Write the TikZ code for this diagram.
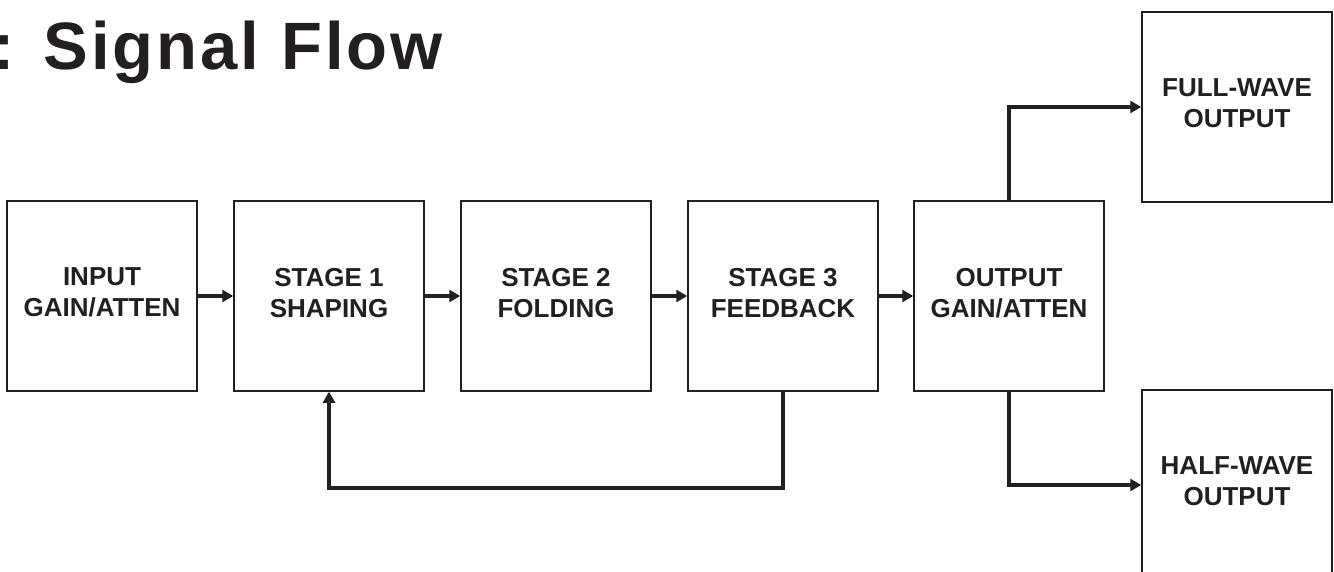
\documentclass[tikz,border=0pt]{standalone}
\usepackage{fontspec}
\setmainfont{Liberation Sans}
\newfontfamily\titlefont[LetterSpace=4.5]{Liberation Sans}
\usetikzlibrary{arrows.meta}
\definecolor{ink}{HTML}{231F20}
\begin{document}
\begin{tikzpicture}[x=1pt,y=-1pt,
  blk/.style={draw=ink, line width=1.5pt, minimum width=190pt, minimum height=190pt,
    inner sep=0pt, align=center, text=ink, text depth=7pt, font=\fontsize{26}{31}\selectfont\bfseries},
  flow/.style={draw=ink, line width=3.5pt, -{Triangle[length=11pt,width=12pt]}},
  ttl/.style={text=ink, inner sep=0pt, font=\titlefont\fontsize{67}{80}\selectfont\bfseries}]
\useasboundingbox (0,0) rectangle (1334,572);
\clip (0,0) rectangle (1334,572);
\node[ttl, anchor=base west] (title) at (-8,70) {: Signal Flow};
\node[blk] (in) at (102,296) {INPUT\\GAIN/ATTEN};
\node[blk] (s1) at (329,296) {STAGE 1\\SHAPING};
\node[blk] (s2) at (556,296) {STAGE 2\\FOLDING};
\node[blk] (s3) at (783,296) {STAGE 3\\FEEDBACK};
\node[blk] (out) at (1009,296) {OUTPUT\\GAIN/ATTEN};
\node[blk] (fw) at (1237,107) {FULL-WAVE\\OUTPUT};
\node[blk] (hw) at (1237,485) {HALF-WAVE\\OUTPUT};
\draw[flow] (in) -- (s1);
\draw[flow] (s1) -- (s2);
\draw[flow] (s2) -- (s3);
\draw[flow] (s3) -- (out);
\draw[flow] (s3.south) -- ++(0,96) -| (s1.south);
\draw[flow] (out.north) |- (fw.west);
\draw[flow] (out.south) |- (hw.west);
\end{tikzpicture}
\end{document}
